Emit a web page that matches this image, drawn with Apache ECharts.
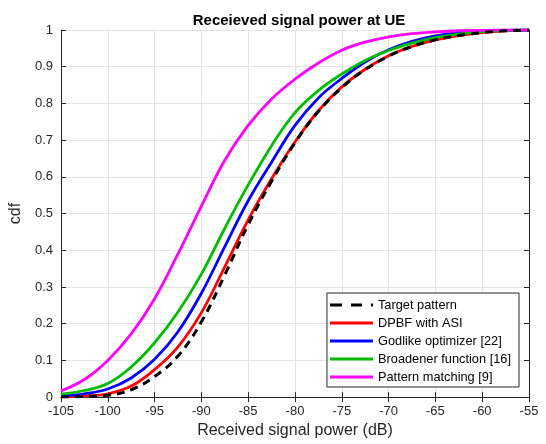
<!DOCTYPE html>
<html>
<head>
<meta charset="utf-8">
<script src="https://cdn.jsdelivr.net/npm/echarts@6/dist/echarts.min.js"></script>
<style>html,body{margin:0;padding:0;background:#fff}#c{width:546px;height:444px}</style>
</head>
<body>
<div id="c"></div>
<script>
const xdB = [-105,-102.5,-100,-97.5,-95,-92.5,-90,-87.5,-85,-82.5,-80,-77.5,-75,-72.5,-70,-67.5,-65,-62.5,-60,-57.5,-55];
const targetPattern = [0.0,0.002,0.005,0.02,0.056,0.112,0.205,0.333,0.47,0.588,0.693,0.778,0.843,0.892,0.929,0.955,0.973,0.985,0.993,0.998,1.0];
const dpbfASI = [0.001,0.003,0.009,0.03,0.075,0.137,0.23,0.355,0.483,0.595,0.695,0.78,0.845,0.893,0.93,0.955,0.973,0.985,0.993,0.998,1.0];
const godlike = [0.003,0.009,0.022,0.052,0.103,0.178,0.283,0.41,0.535,0.64,0.74,0.815,0.868,0.913,0.946,0.969,0.984,0.993,0.997,0.999,1.0];
const broadener = [0.008,0.018,0.037,0.082,0.148,0.232,0.335,0.46,0.578,0.685,0.775,0.835,0.88,0.917,0.944,0.964,0.979,0.989,0.995,0.999,1.0];
const patternMatching = [0.017,0.048,0.1,0.172,0.268,0.39,0.52,0.645,0.74,0.812,0.866,0.91,0.945,0.967,0.981,0.99,0.995,0.998,0.999,1.0,1.0];
const seriesNames = ['Target pattern','DPBF with ASI','Godlike optimizer [22]','Broadener function [16]','Pattern matching [9]'];
const xTicks = [-105,-100,-95,-90,-85,-80,-75,-70,-65,-60,-55];
const yTicks = [0,0.1,0.2,0.3,0.4,0.5,0.6,0.7,0.8,0.9,1];

const pair = arr => xdB.map((x,i)=>[x,arr[i]]);
const font = 'Liberation Sans, Arial, Helvetica, sans-serif';
const axisCol = '#262626';
const solidIcon = 'path://M0,0h43v3h-43z';
const dashIcon = 'path://M0,0h12v3h-12z M21,0h11v3h-11z M41,0h2v3h-2z';

const chart = echarts.init(document.getElementById('c'));
const mkSeries = (name, arr, color, dashed) => ({
  name, type:'line', data: pair(arr), smooth: 0.4, showSymbol:false, symbol:'none',
  xAxisIndex:0, yAxisIndex:0,
  lineStyle:{color, width: dashed?3:2.8, type: dashed?[8,6]:'solid'},
  itemStyle:{color}, z: dashed?5:3
});
chart.setOption({
  animation:false,
  backgroundColor:'#fff',
  title:{text:'Receieved signal power at UE', left:294, textAlign:'center', top:8,
    textStyle:{fontFamily:font, fontSize:15, fontWeight:'bold', color:'#000'}},
  grid:{left:59, right:17, top:30, bottom:46},
  legend:{
    orient:'vertical', right:27, bottom:57,
    data: seriesNames.map((n,i)=>({name:n, icon: i===0?dashIcon:solidIcon})),
    backgroundColor:'#fff', borderColor:axisCol, borderWidth:1,
    padding:[5,8,3,3], itemGap:4, itemWidth:43, itemHeight:3,
    textStyle:{fontFamily:font, fontSize:12.8, color:'#000', lineHeight:14}
  },
  xAxis:[{
    type:'value', min:-105, max:-55, interval:5,
    name:'Received signal power (dB)', nameLocation:'middle', nameGap:17,
    nameTextStyle:{fontFamily:font, fontSize:16, color:'#262626'},
    axisLine:{lineStyle:{color:axisCol}},
    axisTick:{inside:true, length:5, lineStyle:{color:axisCol}},
    axisLabel:{fontFamily:font, fontSize:13, color:'#262626', margin:8},
    splitLine:{show:true, lineStyle:{color:'#e3e3e3'}}
  },{
    type:'value', position:'top', min:-105, max:-55, interval:5,
    axisLine:{lineStyle:{color:axisCol}},
    axisTick:{inside:true, length:5, lineStyle:{color:axisCol}},
    axisLabel:{show:false}, splitLine:{show:false}
  }],
  yAxis:[{
    type:'value', min:0, max:1, interval:0.1,
    name:'cdf', nameLocation:'middle', nameGap:27,
    nameTextStyle:{fontFamily:font, fontSize:16, color:'#262626'},
    axisLine:{show:true, lineStyle:{color:axisCol}},
    axisTick:{show:true, inside:true, length:5, lineStyle:{color:axisCol}},
    axisLabel:{fontFamily:font, fontSize:13, color:'#262626', margin:8,
      formatter: v => String(Math.round(v*10)/10)},
    splitLine:{show:true, lineStyle:{color:'#e3e3e3'}}
  },{
    type:'value', position:'right', min:0, max:1, interval:0.1,
    axisLine:{show:true, lineStyle:{color:axisCol}},
    axisTick:{show:true, inside:true, length:5, lineStyle:{color:axisCol}},
    axisLabel:{show:false}, splitLine:{show:false}
  }],
  series:[
    mkSeries(seriesNames[0], targetPattern, '#000000', true),
    mkSeries(seriesNames[1], dpbfASI, '#ff0000', false),
    mkSeries(seriesNames[2], godlike, '#0000ff', false),
    mkSeries(seriesNames[3], broadener, '#00bb00', false),
    mkSeries(seriesNames[4], patternMatching, '#ff00ff', false)
  ]
});
</script>
</body>
</html>
